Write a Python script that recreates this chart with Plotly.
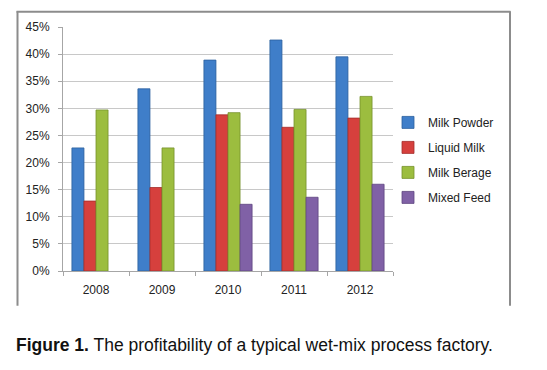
import plotly.graph_objects as go

years = ["2008", "2009", "2010", "2011", "2012"]
milk_powder = [0.227, 0.336, 0.389, 0.426, 0.395]
liquid_milk = [0.129, 0.154, 0.288, 0.265, 0.282]
milk_berage = [0.297, 0.227, 0.292, 0.298, 0.322]
mixed_feed = [None, None, 0.123, 0.136, 0.160]

series = [
    ("Milk Powder", milk_powder, "#3f7ec9", "#2c5f9e"),
    ("Liquid Milk", liquid_milk, "#d6403d", "#a32d2b"),
    ("Milk Berage", milk_berage, "#9cbd3f", "#76922c"),
    ("Mixed Feed", mixed_feed, "#8061a6", "#5e4580"),
]

fig = go.Figure()
for i, (name, vals, col, edge) in enumerate(series):
    fig.add_trace(go.Bar(
        x=years, y=vals, name=name, legendgroup=name,
        marker=dict(color=col, line=dict(color=edge, width=0.8)),
    ))

# page body has an 8px margin; work in window pixels and convert
OFF = 8
W, H = 547 - OFF, 370 - OFF
L, R, T, B = 63 - OFF, 547 - 393, 25 - OFF, 370 - 271
pw, ph = W - L - R, H - T - B

def px(x):
    return (x - OFF - L) / pw

def py(y):
    return (H - B - (y - OFF)) / ph

fig.update_layout(
    width=W, height=H,
    margin=dict(l=L, r=R, t=T, b=B, pad=0),
    paper_bgcolor="white", plot_bgcolor="white",
    barmode="group", bargap=0.27, bargroupgap=0,
    font=dict(family="Liberation Sans, Arial", size=12, color="#222222"),
    showlegend=True,
    legend=dict(x=px(388), y=py(159), xanchor="left", yanchor="middle",
                font=dict(size=12, color="#222222"), tracegroupgap=6,
                bgcolor="rgba(0,0,0,0)"),
    xaxis=dict(showline=True, linecolor="#a6a6a6", linewidth=1,
               ticks="outside", ticklen=4, tickcolor="#a6a6a6",
               tickson="boundaries", showgrid=False, fixedrange=True,
               ticklabelstandoff=8),
    yaxis=dict(range=[0, 0.45], dtick=0.05, tickformat=".0%",
               showline=True, linecolor="#a6a6a6", linewidth=1,
               ticks="outside", ticklen=4, tickcolor="#a6a6a6",
               showgrid=True, gridcolor="#c8c8c8", gridwidth=1,
               zeroline=False, fixedrange=True, ticklabelstandoff=6),
    shapes=[
        dict(type="line", xref="paper", yref="paper", x0=px(17.5), x1=px(17.5), y0=py(9), y1=py(306),
             line=dict(color="#8c8c8c", width=2)),
        dict(type="line", xref="paper", yref="paper", x0=px(16.5), x1=px(510.5), y0=py(9.5), y1=py(9.5),
             line=dict(color="#8c8c8c", width=2)),
        dict(type="line", xref="paper", yref="paper", x0=px(510), x1=px(510), y0=py(9), y1=py(306),
             line=dict(color="#8c8c8c", width=2)),
    ],
    annotations=[
        dict(xref="paper", yref="paper", x=px(14), y=py(346), xanchor="left", yanchor="middle",
             showarrow=False,
             text="<b>Figure 1.</b> The profitability of a typical wet-mix process factory.",
             font=dict(family="Liberation Sans, Arial", size=17.5, color="#111111")),
    ],
)

fig.write_html("out.html")
